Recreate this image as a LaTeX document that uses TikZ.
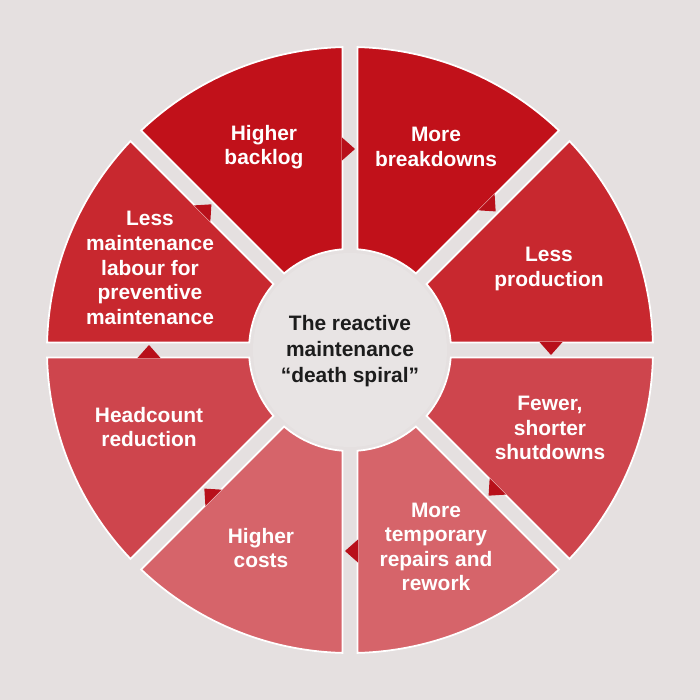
\documentclass[tikz,border=0pt]{standalone}
\usepackage{fontspec}
\setmainfont{Liberation Sans}
\usepackage{tikz}

\definecolor{backgrey}{HTML}{E5E0E0}
\definecolor{hubgrey}{HTML}{E8E4E4}
\definecolor{hubink}{HTML}{1C1C1C}
\definecolor{redA}{HTML}{C1111A}
\definecolor{redB}{HTML}{C8282F}
\definecolor{redC}{HTML}{CE454D}
\definecolor{redD}{HTML}{D6646A}
\definecolor{tipred}{HTML}{B8101A}

\tikzset{
  ringpart/.style={draw=white, line width=1pt},
  turntip/.style={fill=tipred},
  spoketext/.style={text=white, font=\bfseries\fontsize{11.9}{14}\selectfont, align=center},
  hubtext/.style={text=hubink, font=\bfseries\fontsize{11.9}{14.6}\selectfont, align=center}
}

\begin{document}
\begin{tikzpicture}[x=0.02cm, y=0.02cm]
\fill[backgrey] (-350, -350) rectangle (350, 350);
\useasboundingbox (-350, -350) rectangle (350, 350);
% the eight parts of the ring
\path[ringpart, fill=redA] (91.42:303) arc[start angle=91.42, end angle=133.58, radius=303] -- (130.74:101) arc[start angle=130.74, end angle=94.26, radius=101] -- cycle;
\path[ringpart, fill=redA] (46.42:303) arc[start angle=46.42, end angle=88.58, radius=303] -- (85.74:101) arc[start angle=85.74, end angle=49.26, radius=101] -- cycle;
\path[ringpart, fill=redB] (1.42:303) arc[start angle=1.42, end angle=43.58, radius=303] -- (40.74:101) arc[start angle=40.74, end angle=4.26, radius=101] -- cycle;
\path[ringpart, fill=redC] (-43.58:303) arc[start angle=-43.58, end angle=-1.42, radius=303] -- (-4.26:101) arc[start angle=-4.26, end angle=-40.74, radius=101] -- cycle;
\path[ringpart, fill=redD] (-88.58:303) arc[start angle=-88.58, end angle=-46.42, radius=303] -- (-49.26:101) arc[start angle=-49.26, end angle=-85.74, radius=101] -- cycle;
\path[ringpart, fill=redD] (-133.58:303) arc[start angle=-133.58, end angle=-91.42, radius=303] -- (-94.26:101) arc[start angle=-94.26, end angle=-130.74, radius=101] -- cycle;
\path[ringpart, fill=redC] (181.42:303) arc[start angle=181.42, end angle=223.58, radius=303] -- (220.74:101) arc[start angle=220.74, end angle=184.26, radius=101] -- cycle;
\path[ringpart, fill=redB] (136.42:303) arc[start angle=136.42, end angle=178.58, radius=303] -- (175.74:101) arc[start angle=175.74, end angle=139.26, radius=101] -- cycle;
% small tips in the gaps, turning clockwise
\fill[turntip, rotate=90] (189.5, 8) -- (212.5, 8) -- (201, -5) -- cycle;
\fill[turntip, rotate=45] (189.5, 8) -- (212.5, 8) -- (201, -5) -- cycle;
\fill[turntip, rotate=0] (189.5, 8) -- (212.5, 8) -- (201, -5) -- cycle;
\fill[turntip, rotate=-45] (189.5, 8) -- (212.5, 8) -- (201, -5) -- cycle;
\fill[turntip, rotate=-90] (189.5, 8) -- (212.5, 8) -- (201, -5) -- cycle;
\fill[turntip, rotate=-135] (189.5, 8) -- (212.5, 8) -- (201, -5) -- cycle;
\fill[turntip, rotate=180] (189.5, 8) -- (212.5, 8) -- (201, -5) -- cycle;
\fill[turntip, rotate=135] (189.5, 8) -- (212.5, 8) -- (201, -5) -- cycle;
% hub
\fill[hubgrey] (0, 0) circle (97);
\node[hubtext] (hub) at (0, -1) {The reactive\\maintenance\\“death spiral”};
% texts
\node[spoketext] (backlog) at (-86, 203) {Higher\\backlog};
\node[spoketext] (breakdowns) at (86, 203) {More\\breakdowns};
\node[spoketext] (production) at (199, 81) {Less\\production};
\node[spoketext] (shutdowns) at (200, -78) {Fewer,\\shorter\\shutdowns};
\node[spoketext] (repairs) at (86, -197) {More\\temporary\\repairs and\\rework};
\node[spoketext] (costs) at (-89, -198) {Higher\\costs};
\node[spoketext] (headcount) at (-201, -77) {Headcount\\reduction};
\node[spoketext] (labour) at (-200, 82) {Less\\maintenance\\labour for\\preventive\\maintenance};
\end{tikzpicture}
\end{document}
